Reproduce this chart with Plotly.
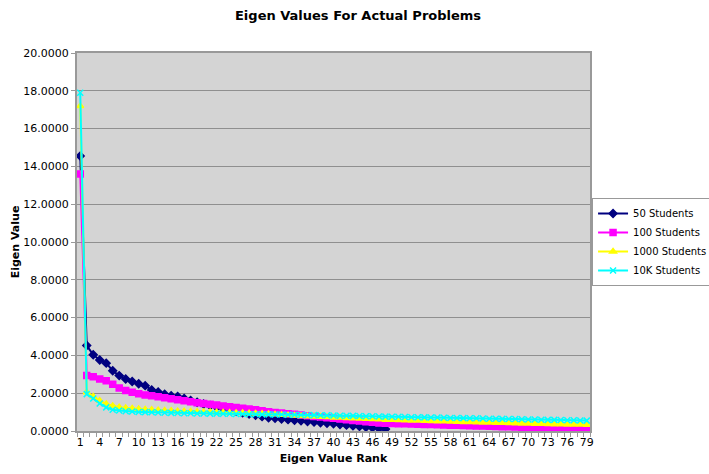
import plotly.graph_objects as go

ranks = list(range(1, 80))

s50 = [14.55, 4.52, 4.03, 3.76, 3.59, 3.19, 2.93, 2.75, 2.62, 2.50,
       2.40, 2.17, 2.06, 1.94, 1.87, 1.83, 1.72, 1.62, 1.52, 1.43,
       1.35, 1.27, 1.19, 1.11, 1.04, 0.97, 0.90, 0.83, 0.76, 0.70,
       0.67, 0.63, 0.60, 0.57, 0.54, 0.50, 0.47, 0.44, 0.41, 0.38,
       0.34, 0.31, 0.27, 0.24, 0.20, 0.17, 0.13, 0.10]

s100 = [13.60, 2.93, 2.87, 2.75, 2.66, 2.47, 2.28, 2.14, 2.05, 1.97,
        1.91, 1.86, 1.81, 1.76, 1.70, 1.65, 1.60, 1.55, 1.50, 1.46,
        1.41, 1.37, 1.32, 1.28, 1.24, 1.20, 1.16, 1.12, 1.07, 1.02,
        0.98, 0.95, 0.91, 0.88, 0.84, 0.81, 0.77, 0.74, 0.70, 0.67,
        0.63, 0.60, 0.56, 0.53, 0.49, 0.46, 0.42, 0.41, 0.40, 0.39,
        0.38, 0.37, 0.36, 0.35, 0.34, 0.33, 0.32, 0.31, 0.30, 0.29,
        0.28, 0.27, 0.26, 0.25, 0.24, 0.23, 0.22, 0.21, 0.20, 0.19,
        0.18, 0.17, 0.16, 0.15, 0.14, 0.13, 0.12, 0.11, 0.10]

s1000 = [17.20, 2.05, 1.82, 1.60, 1.43, 1.33, 1.26, 1.22, 1.19, 1.16,
         1.14, 1.12, 1.10, 1.08, 1.07, 1.05, 1.04, 1.03, 1.02, 1.01,
         1.00, 0.99, 0.98, 0.97, 0.96, 0.95, 0.94, 0.93, 0.92, 0.90,
         0.88, 0.86, 0.84, 0.82, 0.80, 0.78, 0.77, 0.75, 0.74, 0.72,
         0.71, 0.69, 0.68, 0.66, 0.65, 0.63, 0.62, 0.60, 0.59, 0.58,
         0.57, 0.56, 0.55, 0.54, 0.53, 0.52, 0.51, 0.50, 0.49, 0.48,
         0.47, 0.46, 0.45, 0.45, 0.44, 0.43, 0.42, 0.41, 0.40, 0.40,
         0.39, 0.38, 0.37, 0.36, 0.36, 0.35, 0.34, 0.34, 0.33]

s10k = [17.90, 1.95, 1.72, 1.46, 1.25, 1.12, 1.08, 1.05, 1.03, 1.01,
        1.00, 0.99, 0.98, 0.97, 0.96, 0.95, 0.94, 0.94, 0.93, 0.93,
        0.92, 0.92, 0.91, 0.91, 0.90, 0.90, 0.89, 0.89, 0.88, 0.88,
        0.87, 0.87, 0.86, 0.86, 0.85, 0.85, 0.84, 0.83, 0.83, 0.82,
        0.81, 0.81, 0.80, 0.79, 0.78, 0.78, 0.77, 0.76, 0.75, 0.75,
        0.74, 0.73, 0.73, 0.72, 0.71, 0.71, 0.70, 0.69, 0.69, 0.68,
        0.67, 0.67, 0.66, 0.65, 0.65, 0.64, 0.63, 0.63, 0.62, 0.61,
        0.61, 0.60, 0.59, 0.59, 0.58, 0.57, 0.57, 0.56, 0.55]

x_tick_labels = [str(v) for v in range(1, 80, 3)]

series = [
    ("50 Students", s50, "#000080", "diamond", 6),
    ("100 Students", s100, "#FF00FF", "square", 6),
    ("1000 Students", s1000, "#FFFF00", "triangle-up", 6),
    ("10K Students", s10k, "#00FFFF", "x-thin-open", 6),
]

fig = go.Figure()
for name, vals, color, sym, size in series:
    fig.add_trace(go.Scatter(
        x=ranks[:len(vals)], y=vals, name=name, mode="lines+markers",
        line=dict(color=color, width=2),
        marker=dict(symbol=sym, size=size, color=color,
                    line=dict(color=color, width=1.5)),
    ))

font = "DejaVu Sans, Verdana, sans-serif"
fig.update_layout(
    width=709, height=474,
    margin=dict(l=77, r=119, t=53, b=43, autoexpand=False),
    paper_bgcolor="white",
    plot_bgcolor="#D4D4D4",
    font=dict(family=font, size=11, color="black"),
    title=dict(text="<b>Eigen Values For Actual Problems</b>",
               x=0.505, xanchor="center", y=0.968, yanchor="middle",
               font=dict(size=13)),
    legend=dict(x=1.004, xanchor="left", y=0.5, yanchor="middle",
                bordercolor="#999999", borderwidth=1, bgcolor="white",
                font=dict(size=10), itemwidth=30, tracegroupgap=0),
    showlegend=True,
)
fig.update_xaxes(
    range=[0.5, 79.5],
    tickmode="array", tickvals=list(range(1, 80, 3)), ticktext=x_tick_labels,
    ticks="", showgrid=False,
    minor=dict(ticks="outside", tick0=0.5, dtick=1, ticklen=4,
               tickcolor="#999999", showgrid=False),
    showline=True, linecolor="#999999", linewidth=2, mirror=True,
    tickfont=dict(size=11),
    title=dict(text="<b>Eigen Value Rank</b>", font=dict(size=11), standoff=6),
    zeroline=False,
)
fig.update_yaxes(
    range=[0, 20], dtick=2, tickformat=".4f",
    ticks="outside", ticklen=4, tickcolor="#999999",
    showgrid=True, gridcolor="#8F8F8F", gridwidth=1,
    showline=True, linecolor="#999999", linewidth=2, mirror=True,
    tickfont=dict(size=11),
    title=dict(text="<b>Eigen Value</b>", font=dict(size=11), standoff=1),
    zeroline=False,
)

fig.write_html("out.html")
